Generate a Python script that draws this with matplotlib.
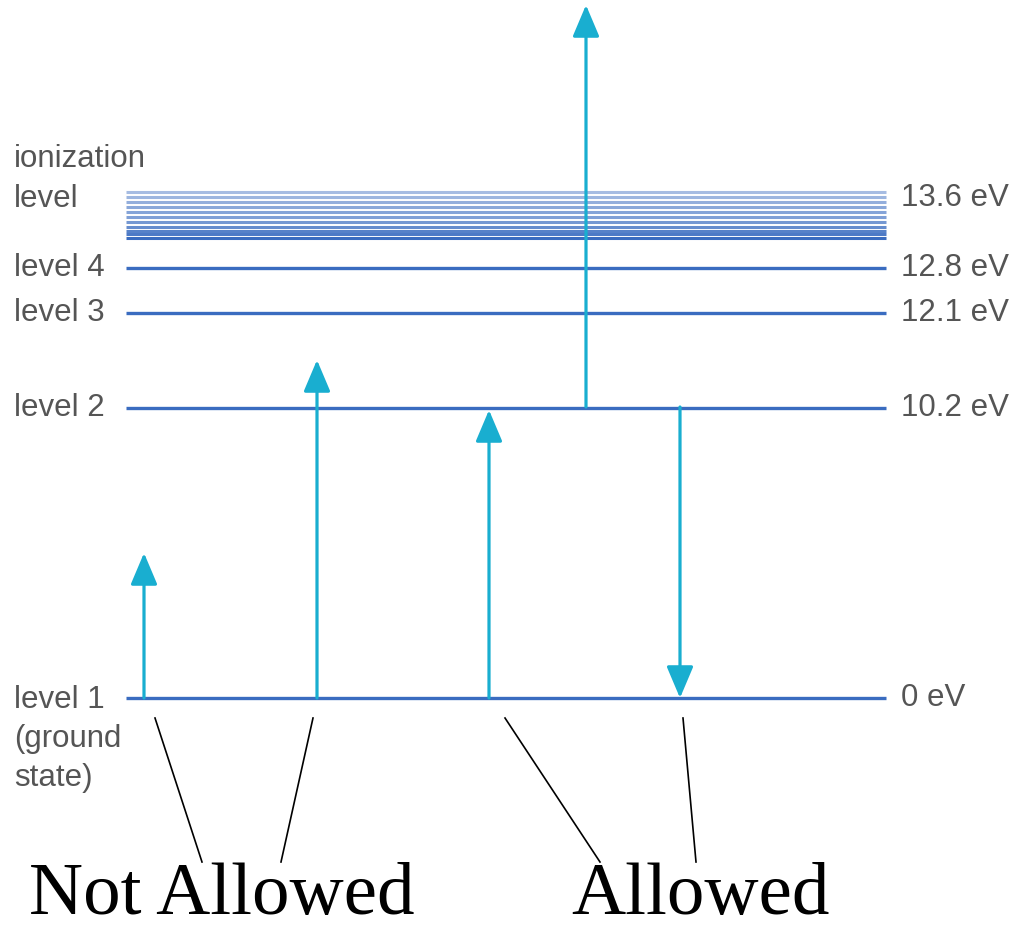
import matplotlib.pyplot as plt

# diagram positions (drawing units, y grows downward like the original art)
level_names = ["level 4", "level 3", "level 2", "level 1\n(ground\nstate)"]
level_energy = ["12.8 eV", "12.1 eV", "10.2 eV", "0 eV"]
level_y = [268, 313, 408, 698]

ion_name = "ionization\nlevel"
ion_energy = "13.6 eV"
ion_lines_y = [192, 197, 202, 207, 212, 217, 222, 227, 231, 234, 238]
ion_alpha = [0.45, 0.5, 0.55, 0.6, 0.62, 0.65, 0.7, 0.78, 0.85, 0.9, 1.0]

# transitions: x, from, to
arrow_x = [144, 317, 489, 586, 680]
arrow_from = [698, 698, 698, 407, 407]
arrow_to = [553, 360, 410, 5, 698]

# pointer lines to the captions
pointer_top = [(155, 718), (313, 718), (505, 718), (683, 718)]
pointer_bot = [(202, 862), (281, 862), (600, 862), (696, 862)]
captions = ["Not Allowed", "Allowed"]
caption_x = [222, 700]

x_left, x_right = 126, 886
level_color = "#3a6cc0"
arrow_color = "#19aed0"
text_color = "#555555"
fs = 22.5

fig = plt.figure(figsize=(10.19, 9.32), dpi=100)
ax = fig.add_axes([0, 0, 1, 1])
ax.set_xlim(0, 1019)
ax.set_ylim(932, 0)
ax.axis("off")

for y, a in zip(ion_lines_y, ion_alpha):
    ax.plot([x_left, x_right], [y, y], color=level_color, lw=2.2, alpha=a,
            solid_capstyle="butt")
ax.text(14, 179, ion_name, fontsize=fs, color=text_color, va="center",
        family="Liberation Sans", linespacing=1.4, ha="left", multialignment="left")
ax.text(901, 198, ion_energy, fontsize=fs, color=text_color, va="center",
        family="Liberation Sans")

for name, en, y in zip(level_names, level_energy, level_y):
    ax.plot([x_left, x_right], [y, y], color=level_color, lw=2.4,
            solid_capstyle="butt")
    if "\n" in name:
        ax.text(14, y - 13, name, fontsize=fs, color=text_color, va="top",
                family="Liberation Sans", linespacing=1.4)
    else:
        ax.text(14, y, name, fontsize=fs, color=text_color, va="center",
                family="Liberation Sans")
    ax.text(901, y, en, fontsize=fs, color=text_color, va="center",
            family="Liberation Sans")

for x, y0, y1 in zip(arrow_x, arrow_from, arrow_to):
    ax.annotate("", xy=(x, y1), xytext=(x, y0),
                arrowprops=dict(arrowstyle="-|>,head_length=1.3,head_width=0.55",
                                mutation_scale=15, lw=2.3, color=arrow_color,
                                shrinkA=0, shrinkB=0))

for (xa, ya), (xb, yb) in zip(pointer_top, pointer_bot):
    ax.plot([xa, xb], [ya, yb], color="black", lw=1.2)

for txt, x in zip(captions, caption_x):
    ax.text(x, 930, txt, fontsize=54, family="Liberation Serif", ha="center",
            va="bottom", color="black")

fig.savefig("out.png", dpi=100)
